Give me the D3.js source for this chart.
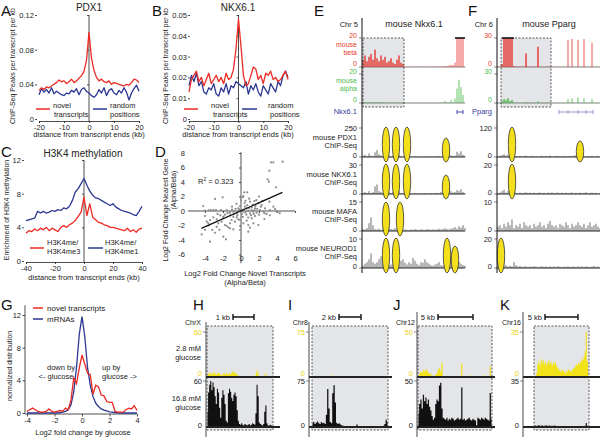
<!DOCTYPE html>
<html><head><meta charset="utf-8">
<script src="https://cdn.jsdelivr.net/npm/d3@7"></script>
<style>body{margin:0;background:#fff}svg{display:block}</style>
</head><body>
<svg id="c" width="600" height="437"></svg>
<script>
// ---------------- DATA ----------------
const kb20 = [-20,-19,-18,-17,-16,-15,-14,-13,-12,-11,-10,-9,-8,-7,-6,-5,-4,-3,-2,-1,0,1,2,3,4,5,6,7,8,9,10,11,12,13,14,15,16,17,18,19,20];
const kb40 = [-40,-38,-36,-34,-32,-30,-28,-26,-24,-22,-20,-18,-16,-14,-12,-10,-8,-6,-4,-2,0,2,4,6,8,10,12,14,16,18,20,22,24,26,28,30,32,34,36,38,40];
// A: PDX1
const pdx1Novel = [0.033,0.036,0.034,0.037,0.036,0.038,0.040,0.042,0.045,0.043,0.044,0.041,0.043,0.046,0.042,0.044,0.047,0.050,0.055,0.068,0.100,0.070,0.056,0.048,0.044,0.046,0.043,0.042,0.044,0.040,0.042,0.041,0.040,0.039,0.038,0.040,0.039,0.042,0.046,0.045,0.042];
const pdx1Random = [0.028,0.035,0.031,0.034,0.030,0.036,0.029,0.032,0.030,0.028,0.027,0.030,0.029,0.033,0.031,0.035,0.028,0.034,0.036,0.032,0.030,0.027,0.025,0.028,0.034,0.030,0.036,0.027,0.033,0.035,0.030,0.028,0.033,0.030,0.036,0.031,0.022,0.030,0.035,0.039,0.032];
// B: NKX6.1
const nkxNovel = [0.013,0.019,0.021,0.023,0.018,0.020,0.016,0.019,0.022,0.017,0.019,0.021,0.018,0.020,0.017,0.022,0.019,0.020,0.024,0.034,0.048,0.035,0.021,0.016,0.017,0.021,0.025,0.024,0.019,0.021,0.017,0.022,0.021,0.023,0.019,0.020,0.018,0.019,0.021,0.023,0.019];
const nkxRandom = [0.016,0.021,0.018,0.022,0.016,0.018,0.013,0.012,0.015,0.014,0.017,0.012,0.011,0.015,0.013,0.017,0.012,0.016,0.015,0.018,0.017,0.016,0.015,0.018,0.012,0.016,0.014,0.017,0.013,0.011,0.016,0.014,0.012,0.017,0.015,0.013,0.018,0.016,0.021,0.023,0.020];
// C: H3K4 methylation
const me3 = [3.3,3.6,3.5,3.8,3.6,3.9,3.7,4.0,3.6,3.9,3.7,3.5,4.0,4.2,4.0,4.3,4.5,4.8,5.3,5.8,7.6,5.4,6.8,5.2,4.9,4.6,4.5,4.3,4.2,4.0,4.0,3.9,3.8,3.7,3.6,3.9,3.5,3.7,3.4,3.8,3.9];
const me1 = [4.8,4.9,5.0,5.1,5.9,5.7,5.9,5.7,5.8,6.0,5.9,6.1,6.0,6.3,6.2,6.5,7.2,8.2,8.6,9.2,9.8,9.0,8.3,7.8,7.5,7.4,7.2,7.0,6.8,6.6,6.8,6.4,6.2,6.0,5.9,5.8,5.7,5.5,5.4,5.9,6.5];
// D: scatter
const dX = [3.33,3.59,4.63,3.15,2.96,3.1,3.89,0.37,0.7,0.26,-2.89,-2.04,-4.2,1.0,1.48,1.93,2.3,2.67,3.15,-3.37,-3.07,-2.78,-2.22,-1.59,-4.0,-3.6,-1.22,-0.85,-0.48,-0.3,-0.11,0.07,0.26,0.44,0.63,0.81,1.0,1.19,1.37,1.56,1.74,2.11,2.48,2.85,3.22,3.78,3.96,-4.0,-3.8,-3.63,-3.44,-3.07,-2.7,-2.52,-2.15,-1.96,-1.78,-1.59,-1.41,-1.22,-1.04,-0.85,-0.67,-0.48,-0.3,-0.11,0.26,0.63,0.81,1.37,1.93,1.19,1.56,-4.37,-1.96,-1.67,-3.44,-0.11,0.81,-0.85,-1.22,0.1,0.3,0.5,0.7,0.9,1.1,1.3,1.5,0.2,0.4,0.6,0.8,1.2,1.4,1.6,1.8,2.0,2.2,2.4,2.6,-0.2,-0.4,-0.6,-0.8,-1.0,-1.2,-1.5,-1.8,-2.0,-2.3,-2.6,0.0,0.2,0.5,0.9,1.7,2.0,-0.5,-1.0,-2.7,-3.2,-2.9,-3.6,-4.0,-2.4,1.0,2.6,3.2,4.3,3.6];
const dY = [6.71,6.71,6.8,5.56,4.37,4.05,3.26,2.57,2.57,2.07,1.66,1.89,0.69,1.29,1.38,1.06,0.83,0.37,1.29,0.14,0.14,0.14,0.14,0.14,0.05,0.1,-0.23,-0.09,-0.32,0.37,0.69,0.14,-0.09,0.6,0.37,0.05,-0.32,0.14,-0.09,0.37,-0.23,0.14,-0.09,-0.41,0.14,0.25,-0.09,-0.69,-1.47,-1.7,-1.24,-0.87,-1.15,-1.7,-1.47,-0.78,-1.93,-2.07,-2.25,-1.7,-1.24,-0.78,-1.47,-0.87,-1.15,-1.24,-1.7,-1.33,-1.93,-1.7,-1.93,-1.01,-0.69,-3.22,-3.54,-3.91,-4.23,-2.62,-2.85,-2.53,-2.39,-0.4,0.2,-0.2,0.8,0.4,-0.6,0.9,0.1,-0.8,1.1,-0.5,-0.9,0.5,-0.4,0.7,0.3,-0.5,0.6,1.4,-0.3,0.2,-0.6,0.3,-0.4,0.2,-0.6,-0.3,-0.5,-1.0,-0.6,-0.4,1.5,1.9,1.4,1.7,1.5,2.0,1.0,0.6,-2.2,-2.6,-3.0,-2.0,-2.6,-2.6,-2.3,-1.1,-0.6,-0.3,0.6];
const dFitX = [-4.4, 4.6];
const dFitY = [-2.4, 2.57];
const dR2 = "0.323";
// E: Nkx6.1 locus (52 bins)
const eBeta = [5,8,4,7,9,5,12,6,4,8,5,7,3,4,6,3,2,5,8,3,2,0.4,0.3,0.2,0.3,0.2,0.2,0.3,0.2,0.2,0.3,0.2,0.2,0.3,0.2,0.3,0.2,0.3,0.4,0.3,0.4,0.5,0.6,1,1.5,1.2,3,25,25,25,25,0.3];
const eAlpha = [0.3,0.5,0.4,0.3,0.6,0.4,0.3,0.5,0.3,0.4,0.3,0.2,0.3,0.2,0.3,0.2,0.2,0.3,0.2,0.2,0.3,0.2,0.1,0.2,0.1,0.2,0.1,0.2,0.1,0.2,0.3,0.2,0.1,0.2,0.1,0.2,0.1,0.2,0.3,0.5,0.4,1.5,0.5,0.5,2,0.6,3,10,16,11,5.5,0.3];
const ePdx1 = [10,20,8,30,12,6,40,60,25,15,8,30,50,10,6,12,40,70,20,8,5,4,6,3,5,4,6,3,4,5,3,6,4,5,3,4,6,5,8,4,6,10,20,40,15,8,12,45,30,50,20,10];
const eNkx = [1,2,1,3,1,2,8,10,3,2,1,3,6,2,1,2,8,12,3,1,0.8,0.5,1,0.6,0.8,0.5,1,0.7,0.5,0.8,0.6,1,0.5,0.7,0.8,0.6,1,1.2,0.8,2,1,3,6,10,3,1.5,2,4,3,5,2,1];
const eMafa = [1,0.8,1.5,4,7,3,1,0.8,1.2,0.6,1,3,6,2,1,0.8,1.5,0.6,0.8,1,0.5,0.8,0.6,0.5,0.8,0.6,1,0.7,0.6,0.9,0.7,0.6,1,0.8,0.6,0.9,0.7,0.8,1.2,0.8,1,1.5,1,0.8,1.2,1.5,2,1.2,2.5,1.8,3,1.5];
const eNeuro = [0.8,1.5,2,3,5,2,1.5,2,3,4,2,1.5,1,0.8,1.2,1.5,2,1.8,1.2,2.5,3,1.8,1.2,2,1.5,3.5,2.5,1.5,1,2,1.8,3,2,1.5,1,0.8,1.2,1.5,2,1,0.8,1,1.5,2,3,4,2.5,3,2,1.5,1,0.8];
const eGene = [47, 50];
const ePeakTrack = [0,0,0,0,1,1,1,1,2,2,3,3,3,3];
const ePeakPos = [11.5,16.5,22,41.5,11.5,16.5,22,41.5,11.5,18.5,11.5,16.5,42,46];
const ePeakSize = [35,35,35,24,35,35,35,24,34,34,35,35,35,27];
// F: Pparg locus (52 bins)
const fBeta = [0.3,0.5,3,40,35,40,32,40,1,0.5,0.3,0.4,0.3,0.3,14,0.3,0.2,0.3,0.2,0.3,21,0.2,0.3,0.2,0.3,0.2,0.3,0.2,0.3,0.2,0.3,0.2,0.3,0.2,0.3,28,0.3,29,0.3,0.2,28,0.3,0.2,29,0.3,0.2,0.3,25,0.3,0.2,0.3,0.2];
const fAlpha = [0.2,0.3,2,4,3,5,2,3,0.3,0.2,0.3,0.2,0.3,0.2,1,0.2,0.3,0.2,0.3,0.2,1.5,0.2,0.3,0.2,0.3,0.2,0.3,0.2,0.3,0.2,0.3,0.2,0.3,0.2,0.3,4,0.3,5,0.3,0.2,6,0.3,0.2,5,0.3,0.2,0.3,4,0.3,0.2,0.3,0.2];
const fPdx1 = [3,5,8,12,6,10,20,30,8,4,3,5,2,4,6,3,2,5,3,4,2,3,5,2,4,3,6,2,3,4,5,2,3,4,2,3,5,4,6,8,10,20,5,3,2,4,3,5,2,3,4,2];
const fNkx = [0.5,1,2,3,1,2,4,5,1.5,0.8,0.5,1,0.6,0.8,1.2,0.5,0.9,0.6,1,0.5,0.8,1.1,0.6,0.9,0.5,1,0.7,1.2,0.6,0.8,1,0.5,0.9,0.7,1,0.6,0.8,1.1,0.5,0.9,0.7,1,0.6,0.8,1.2,0.5,0.7,1,0.6,0.8,0.5,0.7];
const fMafa = [1.5,2,1,2.5,1.5,3,2,4,1,2,1.5,2.5,1,3,2,1.5,2,1,2.5,1.5,2,3,1.5,2,1,2.5,3.5,2,1.5,2,1,2.5,2,1.5,3,2,1,2.5,1.5,2,3,2,1.5,2.5,1,2,3,1.5,2,2.5,1.5,1];
const fNeuro = [1,2,3,1.5,2,1,1.5,1,4,2,1,1.5,0.8,1,1.2,0.6,1,0.8,1.2,1,0.6,0.9,1.2,0.8,1,0.6,1.1,0.8,1,0.7,1.2,0.9,0.6,1,0.8,1.1,0.7,1,0.9,0.6,1.2,0.8,1,0.7,1.1,0.9,0.6,1,1.5,0.8,1,0.7];
const fGene = [30, 48];
const fExons = [30.5, 35, 40, 44, 47.5];
const fPeakTrack = [0,0,1,3];
const fPeakPos = [7,41,7,1.5];
const fPeakSize = [35,21,35,35];
// G: glucose fold change
const gX = [-4,-3.8,-3.6,-3.4,-3.2,-3,-2.8,-2.6,-2.4,-2.2,-2,-1.8,-1.6,-1.4,-1.2,-1,-0.8,-0.6,-0.4,-0.2,0,0.2,0.4,0.6,0.8,1,1.2,1.4,1.6,1.8,2,2.2,2.4,2.6,2.8,3,3.2,3.4,3.6,3.8,4];
const gNovel = [0.2,0.4,0.6,0.4,0.2,0.1,0.1,0.2,0.5,0.2,0.1,0.2,0.3,0.2,0.6,0.4,1.6,4.3,3.6,5.5,7.1,6.0,4.9,4.7,2.3,3.4,3.2,2.2,2.1,1.4,1.3,1.3,0.2,0.1,0.1,0.1,0.4,0.6,0.5,0.9,0.3];
const gMrna = [0,0,0,0,0,0,0,0,0,0,0,0,0.05,0.1,0.2,0.4,1.0,2.6,5.6,9.6,11.8,9.4,5.6,3.4,2.0,1.2,0.8,0.5,0.35,0.25,0.15,0.1,0.05,0.03,0,0,0,0,0,0,0];
// H-K: glucose tracks
const hYellow = [3,5,4,6,3,5,7,4,3,5,6,4,3,2,4,5,3,6,4,3,5,4,6,8,5,7,4,3,2,1,0.5,0.8,0.5,0.6,0.5,0.8,0.5,0.6,0.5,0.7,0.5,0.6,0.8,1,3,9,5,1,0.5,0.5,0.6,0.5,2,5,1,0.5,0.5,0.4,0.5,0.4];
const hBlack = [20,45,55,60,48,58,52,40,30,50,45,25,12,38,48,42,30,8,6,44,50,46,38,34,42,45,40,22,8,4,3,5,3,2,4,3,2,3,4,2,3,5,4,3,18,55,40,6,4,3,2,4,20,28,5,2,2,3,2,1];
const iYellow = [0.3,0.3,0.4,0.3,0.3,0.3,0.4,0.3,0.3,0.3,0.4,0.3,0.3,0.3,0.5,1.5,3,1.5,0.4,0.3,0.3,0.3,0.3,0.3,0.3,0.3,0.3,0.3,0.3,0.3,0.3,0.3,0.3,0.3,0.3,0.3,0.3,0.3,0.3,0.3,0.3,0.3,0.3,0.3,0.3,0.3,0.3,0.3,0.3,0.3,0.3,0.3,0.3,0.3,0.3,0.3,0.3,0.3,0.4,0.3];
const iBlack = [6,8,5,7,9,6,5,8,6,7,5,20,62,30,8,6,55,68,40,7,5,6,4,3,2,1,1,1.5,1,0.8,1,1,0.8,1,0.7,4,1,0.8,1,0.6,0.8,1,0.7,0.6,0.8,1,0.6,0.8,1,0.7,0.6,0.8,1,0.7,0.8,1,2,5,12,8];
const jYellow = [2,4,6,5,8,6,9,7,5,4,3,2,1,1,3,4,8,10,6,16,1,0.5,1,0.8,0.5,1,0.6,0.5,0.8,1,0.5,0.6,0.8,0.5,1,15,1,0.6,0.8,1,0.5,1.5,2,1,0.8,1,0.5,0.5,0.6,1,0.5,0.8,1.5,2,1,0.8,1.2,1,12,1];
const jBlack = [15,25,30,20,35,28,32,25,30,22,18,12,8,10,25,30,28,45,48,20,10,9,8,10,7,9,8,10,9,7,8,9,10,8,9,43,8,9,7,8,9,10,8,7,9,8,7,2,10,9,8,10,9,8,10,9,8,7,37,9];
const kYellow = [0.5,1,3,10,12,9,14,11,13,10,12,9,11,13,10,12,9,11,10,12,9,7,6,5,4,6,5,4,3,5,4,6,5,4,5,6,7,8,10,9,11,10,12,14,13,16,20,35,12,3];
const kBlack = [0.8,1.2,0.6,1,1.5,0.8,1,1.3,0.7,1,0.9,1.4,0.6,1,1.2,0.8,1,0.6,1.1,0.9,0.5,0.7,0.5,0.6,0.4,0.5,0.6,0.4,0.5,0.3,0.4,0.5,0.3,0.4,0.5,0.3,0.4,0.5,0.3,0.4,0.5,0.3,0.4,0.5,0.6,0.8,1,3,1,0.5];

// ---------------- DRAWING ----------------
const FONT = "'Liberation Sans', Arial, Helvetica, sans-serif";
const RED = "#ec2b24", BLUE = "#2c3792", TXT = "#222", FS = 7.5;
const svg = d3.select("#c").attr("font-family", FONT);

function txt(x, y, s, o = {}) {
  const t = svg.append("text").attr("x", x).attr("y", y).attr("dy", "0.35em")
    .attr("font-size", o.size || FS).attr("fill", o.color || TXT)
    .attr("text-anchor", o.anchor || "start").text(s);
  if (o.rot) t.attr("transform", `rotate(-90,${x},${y})`).attr("text-anchor", "middle");
  return t;
}
function styleAxis(g) {
  g.attr("font-family", FONT).attr("font-size", FS).attr("color", TXT);
  g.selectAll("line,path").attr("stroke-width", 0.8);
}
const fmtInt = d => String(d);

// panel letters
[["A",1,11],["B",152,11],["C",1,152],["D",155,152],["E",314,11],["F",468,11],["G",1,305],["H",193,305],["I",288,305],["J",393,305],["K",500,305]]
  .forEach(([l,x,y]) => txt(x, y, l, {size: 15, color: "#111"}));

function curvePanel(p) {
  const x = d3.scaleLinear().domain(p.xd).range(p.xr);
  const y = d3.scaleLinear().domain(p.yd).range(p.yr);
  const ya = d3.axisLeft(y).tickValues(p.yTicks).tickFormat(p.yFmt).tickSize(2).tickPadding(1.2);
  const yg = svg.append("g").attr("transform", `translate(${p.labX},0)`).call(ya);
  yg.select(".domain").remove(); styleAxis(yg);
  const xa = d3.axisBottom(x).tickValues(p.xTicks).tickFormat(fmtInt).tickSize(2).tickPadding(1.2);
  const xg = svg.append("g").attr("transform", `translate(0,${p.axisY})`).call(xa);
  styleAxis(xg);
  const cg = svg.append("g").attr("transform", `translate(${x(0)},0)`)
    .call(d3.axisLeft(y).tickValues(p.yTicks.filter(v => v !== 0)).tickFormat("").tickSize(2));
  cg.select(".domain").attr("d", `M0,${y(p.yd[1])}V${p.axisY}`);
  styleAxis(cg);
  const line = d3.line().x((d, i) => x(p.xs[i])).y(d => y(d));
  p.series.forEach(s => svg.append("path").datum(s.v).attr("d", line)
    .attr("fill", "none").attr("stroke", s.c).attr("stroke-width", 1.3).attr("stroke-linejoin", "round"));
  return {x, y};
}
function legendLine(x1, x2, y, c) {
  svg.append("line").attr("x1", x1).attr("x2", x2).attr("y1", y).attr("y2", y).attr("stroke", c).attr("stroke-width", 1.5);
}

// A
curvePanel({xd:[-20,20], xr:[39,139], yd:[0,0.12], yr:[119,15], labX:37, axisY:121,
  yTicks:[0,0.04,0.08,0.12], yFmt: d => d === 0 ? "0" : d.toFixed(2), xTicks:[-20,-10,0,10,20], xs: kb20,
  series:[{v: pdx1Random, c: BLUE}, {v: pdx1Novel, c: RED}]});
txt(89, 7, "PDX1", {size: 10, anchor: "middle"});
txt(13, 66, "ChIP-Seq Peaks per transcript per kb", {rot: true, size: 7});
txt(89, 134.5, "distance from transcript ends (kb)", {anchor: "middle"});
legendLine(36, 50, 109, RED); txt(53, 105, "novel"); txt(54, 114, "transcripts");
legendLine(93, 107, 109, BLUE); txt(110, 105, "random"); txt(110, 114, "positions");

// B
curvePanel({xd:[-20,20], xr:[189,288], yd:[0,0.05], yr:[119,15], labX:190, axisY:121,
  yTicks:[0,0.01,0.02,0.03,0.04,0.05], yFmt: d => d === 0 ? "0" : d.toFixed(2), xTicks:[-20,-10,0,10,20], xs: kb20,
  series:[{v: nkxRandom, c: BLUE}, {v: nkxNovel, c: RED}]});
txt(238, 7, "NKX6.1", {size: 10, anchor: "middle"});
txt(166, 66, "ChIP-Seq Peaks per transcript per kb", {rot: true, size: 7});
txt(238, 134.5, "distance from transcript ends (kb)", {anchor: "middle"});
legendLine(184, 198, 109, RED); txt(211, 105, "novel"); txt(213, 114, "transcripts");
legendLine(242, 257, 109, BLUE); txt(268, 105, "random"); txt(270, 114, "positions");

// C
curvePanel({xd:[-40,40], xr:[26,142], yd:[0,12], yr:[261,160], labX:24, axisY:262,
  yTicks:[0,4,8,12], yFmt: fmtInt, xTicks:[-40,-20,0,20,40], xs: kb40,
  series:[{v: me1, c: BLUE}, {v: me3, c: RED}]});
txt(83, 153, "H3K4 methylation", {size: 10, anchor: "middle"});
txt(7, 210, "Enrichment of H3K4 methylation", {rot: true, size: 7});
txt(84, 277, "distance from transcript ends (kb)", {anchor: "middle"});
legendLine(30, 44, 248, RED); txt(47, 242, "H3K4me/"); txt(47, 251, "H3K4me3");
legendLine(88, 103, 248, BLUE); txt(105, 242, "H3K4me/"); txt(105, 251, "H3K4me1");

// D
(function(){
  const x = d3.scaleLinear().domain([-6,6]).range([187,295]);
  const y = d3.scaleLinear().domain([-8,8]).range([269,153]);
  const yTicks = [-6,-4,-2,0,2,4,6,8];
  const yl = svg.append("g").attr("transform", "translate(186,0)")
    .call(d3.axisLeft(y).tickValues(yTicks).tickFormat(fmtInt).tickSize(0).tickPadding(1));
  yl.select(".domain").remove(); styleAxis(yl);
  const xl = svg.append("g").attr("transform", "translate(0,255)")
    .call(d3.axisBottom(x).tickValues([-4,-2,0,2,4,6]).tickFormat(fmtInt).tickSize(0).tickPadding(1));
  xl.select(".domain").remove(); styleAxis(xl);
  const va = svg.append("g").attr("transform", `translate(${x(0)},0)`)
    .call(d3.axisLeft(y).tickValues([-6,-4,-2,2,4,6,8]).tickFormat("").tickSize(2));
  va.select(".domain").attr("d", `M0,${y(8.1)}V${y(-7.2)}`); styleAxis(va);
  const ha = svg.append("g").attr("transform", `translate(0,${y(0)})`)
    .call(d3.axisBottom(x).tickValues([-4,-2,2,4,6]).tickFormat("").tickSize(2));
  ha.select(".domain").attr("d", `M${x(-5.9)},0H${x(6)}`); styleAxis(ha);
  svg.append("g").selectAll("circle").data(dX).join("circle")
    .attr("cx", d => x(d)).attr("cy", (d, i) => y(dY[i])).attr("r", 1.1).attr("fill", "#8a8a8a");
  svg.append("path").datum(dFitX).attr("d", d3.line().x(d => x(d)).y((d, i) => y(dFitY[i])))
    .attr("stroke", "#111").attr("stroke-width", 1.3);
  const t = txt(198, 181, "R");
  t.append("tspan").attr("font-size", 5).attr("dy", "-3").text("2");
  t.append("tspan").attr("dy", "3").text(" = " + dR2);
  txt(166, 210, "Log2 Fold Change Nearest Gene", {rot: true, size: 7});
  txt(174, 190, "(Alpha/Beta)", {rot: true, size: 7});
  txt(245, 273, "Log2 Fold Change Novel Transcripts", {anchor: "middle"});
  txt(245, 282, "(Alpha/Beta)", {anchor: "middle"});
})();

// E & F genome browser
const GRAY = "#e4e5e8", YEL = "#f3df1c";
function barTrack(vals, xr, base, h, max, color, w, opac) {
  const x = d3.scaleLinear().domain([0, vals.length - 1]).range(xr);
  const y = d3.scaleLinear().domain([0, max]).range([base, base - h]).clamp(true);
  svg.append("g").selectAll("rect").data(vals).join("rect")
    .attr("x", (d, i) => x(i) - w / 2).attr("width", w)
    .attr("y", d => y(d)).attr("height", d => base - y(d)).attr("fill", color)
    .attr("opacity", (d, i) => opac ? opac(i) : 1);
  const over = vals.map((v, i) => v > max ? i : -1).filter(i => i >= 0);
  if (over.length) svg.append("line").attr("x1", x(over[0]) - 2).attr("x2", x(over[over.length - 1]) + 2)
    .attr("y1", base - h).attr("y2", base - h).attr("stroke", "#111").attr("stroke-width", 1.6);
  return x;
}
function browser(c) {
  const xr = [c.ax + 1, c.ax + 103];
  const xs = d3.scaleLinear().domain([0, 51]).range(xr);
  svg.append("rect").attr("x", xs(c.box[0])).attr("y", 38).attr("width", xs(c.box[1]) - xs(c.box[0])).attr("height", 69)
    .attr("fill", GRAY);
  const L = c.ax - 5;
  txt(L + 1, 24, c.chr, {anchor: "end"});
  txt(c.ax + 52, 24, c.title, {size: 9, anchor: "middle"});
  const tick = (y) => svg.append("line").attr("x1", c.ax - 3).attr("x2", c.ax).attr("y1", y).attr("y2", y).attr("stroke", "#555").attr("stroke-width", 0.7);
  const inBox = i => (i >= c.box[0] && i <= c.box[1]) ? 1 : 0.6;
  [[67, c.beta, c.betaMax, "#e4281f", "#e8392e", "beta"], [103, c.alpha, c.alphaMax, "#3cb43c", "#4cbb4c", "alpha"]].forEach(([b, v, m, col, tcol, nm]) => {
    svg.append("line").attr("x1", c.ax).attr("x2", xr[1]).attr("y1", b).attr("y2", b).attr("stroke", "#666").attr("stroke-width", 0.8);
    barTrack(v, xr, b, 29, m, col, 1.3, inBox);
    txt(L, b - 31, String(m), {anchor: "end", color: tcol, size: 7}); tick(b - 29);
    txt(L, b - 3, "0", {anchor: "end", color: tcol, size: 7}); tick(b);
    if (c.showNames) { txt(L, b - 22, "mouse", {anchor: "end", color: tcol, size: 7}); txt(L, b - 14, nm, {anchor: "end", color: tcol, size: 7}); }
  });
  svg.append("rect").attr("x", xs(c.box[0])).attr("y", 38).attr("width", xs(c.box[1]) - xs(c.box[0])).attr("height", 69)
    .attr("fill", "none").attr("stroke", "#333").attr("stroke-width", 0.8).attr("stroke-dasharray", "2,1.5");
  txt(L, 111, c.gene, {anchor: "end", color: "#3a3aa0"});
  svg.append("line").attr("x1", xs(c.geneSpan[0])).attr("x2", xs(c.geneSpan[1])).attr("y1", 112).attr("y2", 112)
    .attr("stroke", c.geneColor).attr("stroke-width", 1);
  svg.append("g").selectAll("line").data(c.exons).join("line")
    .attr("x1", d => xs(d)).attr("x2", d => xs(d)).attr("y1", 110).attr("y2", 114).attr("stroke", c.geneColor).attr("stroke-width", 1);
  const bases = [157, 194, 231, 268];
  c.chip.forEach((t, k) => {
    const b = bases[k];
    barTrack(t.v, xr, b, 29, t.max, "#333", 0.7);
    svg.append("line").attr("x1", c.ax).attr("x2", xr[1]).attr("y1", b).attr("y2", b).attr("stroke", "#111").attr("stroke-width", 0.9);
    txt(L, b - 29, String(t.max), {anchor: "end"}); tick(b - 29);
    txt(L, b - 2, "0", {anchor: "end"}); tick(b);
    if (c.showNames) { txt(L, b - 20, t.name, {anchor: "end"}); txt(L, b - 12, "ChIP-Seq", {anchor: "end"}); }
  });
  svg.append("g").selectAll("ellipse").data(c.peakPos).join("ellipse")
    .attr("cx", d => xs(d)).attr("cy", (d, i) => bases[c.peakTrack[i]] + 5 - c.peakSize[i] / 2)
    .attr("rx", 3.7).attr("ry", (d, i) => c.peakSize[i] / 2)
    .attr("fill", YEL).attr("stroke", "#333").attr("stroke-width", 0.8);
  svg.append("line").attr("x1", c.ax).attr("x2", c.ax).attr("y1", 18).attr("y2", 273).attr("stroke", "#111").attr("stroke-width", 1);
}
browser({ax: 362, chr: "Chr 5", title: "mouse Nkx6.1", box: [0, 20.5], beta: eBeta, betaMax: 20, alpha: eAlpha, alphaMax: 20,
  showNames: true, gene: "Nkx6.1", geneSpan: eGene, exons: eGene, geneColor: "#4848b0",
  chip: [{v: ePdx1, max: 250, name: "mouse PDX1"}, {v: eNkx, max: 30, name: "mouse NKX6.1"}, {v: eMafa, max: 15, name: "mouse MAFA"}, {v: eNeuro, max: 10, name: "mouse NEUROD1"}],
  peakTrack: ePeakTrack, peakPos: ePeakPos, peakSize: ePeakSize});
browser({ax: 497, chr: "Chr 6", title: "mouse Pparg", box: [1.5, 26.5], beta: fBeta, betaMax: 30, alpha: fAlpha, alphaMax: 30,
  showNames: false, gene: "Pparg", geneSpan: fGene, exons: fExons, geneColor: "#9b9bd0",
  chip: [{v: fPdx1, max: 120}, {v: fNkx, max: 20}, {v: fMafa, max: 10}, {v: fNeuro, max: 20}],
  peakTrack: fPeakTrack, peakPos: fPeakPos, peakSize: fPeakSize});

// G
(function(){
  const x = d3.scaleLinear().domain([-4,4]).range([27,137]);
  const y = d3.scaleLinear().domain([0,12]).range([413,315]);
  const ya = svg.append("g").attr("transform", "translate(25,0)")
    .call(d3.axisLeft(y).tickValues([0,4,8,12]).tickFormat(fmtInt).tickSize(2.5).tickPadding(1.5));
  ya.select(".domain").attr("d", `M0,${y(13.2)}V${y(0)}`); styleAxis(ya);
  const xa = svg.append("g").attr("transform", "translate(0,414)")
    .call(d3.axisBottom(x).tickValues([-4,-2,0,2,4]).tickFormat(fmtInt).tickSize(2.5).tickPadding(1.5));
  xa.select(".domain").attr("d", `M25,0H${x(4)}`); styleAxis(xa);
  const line = d3.line().x((d, i) => x(gX[i])).y(d => y(d));
  svg.append("path").datum(gMrna).attr("d", line).attr("fill", "none").attr("stroke", BLUE).attr("stroke-width", 1.3);
  svg.append("path").datum(gNovel).attr("d", line).attr("fill", "none").attr("stroke", RED).attr("stroke-width", 1.3);
  legendLine(33, 43, 308, RED); txt(47, 308, "novel transcripts", {size: 8});
  legendLine(33, 43, 319, BLUE); txt(47, 319, "mRNAs", {size: 8});
  txt(61, 367, "down by", {anchor: "middle"}); txt(56, 376, "<- glucose", {anchor: "middle"});
  txt(102, 367, "up by"); txt(102, 376, "glucose ->");
  txt(10, 366, "normalized distribution", {rot: true, size: 7});
  txt(83, 432, "Log2 fold change by glucose", {anchor: "middle"});
})();

// H-K
function gluc(c) {
  const YLW = "#f2e21a", YTXT = "#e8d60a";
  svg.append("rect").attr("x", c.box[0]).attr("y", 326).attr("width", c.box[1] - c.box[0]).attr("height", 104).attr("fill", GRAY);
  const xs = d3.scaleLinear().domain([0, c.yel.length - 1]).range([c.box[0] + 0.5, c.box[1] - 0.5]);
  [[377, 45, c.yel, YLW], [427, 46, c.blk, "#111"]].forEach(([b, h, v, col]) => {
    const y = d3.scaleLinear().domain([0, c.max]).range([b, b - h]).clamp(true);
    svg.append("path").datum(v).attr("d", d3.area().x((d, i) => xs(i)).y0(b).y1(d => y(d)).curve(d3.curveStep)).attr("fill", col);
    svg.append("line").attr("x1", c.ax).attr("x2", c.lineEnd).attr("y1", b).attr("y2", b).attr("stroke", "#222").attr("stroke-width", 1.8);
    svg.append("line").attr("x1", c.ax - 3).attr("x2", c.ax).attr("y1", b - h).attr("y2", b - h).attr("stroke", "#555").attr("stroke-width", 0.7);
  });
  svg.append("rect").attr("x", c.box[0]).attr("y", 326).attr("width", c.box[1] - c.box[0]).attr("height", 104)
    .attr("fill", "none").attr("stroke", "#333").attr("stroke-width", 0.8).attr("stroke-dasharray", "2,1.5");
  svg.append("line").attr("x1", c.ax).attr("x2", c.ax).attr("y1", c.axTop).attr("y2", 437).attr("stroke", "#333").attr("stroke-width", 0.9);
  txt(c.ax - 4, 332, String(c.max), {anchor: "end", color: YTXT});
  txt(c.ax - 4, 373, "0", {anchor: "end", color: YTXT});
  txt(c.ax - 4, 381, String(c.max), {anchor: "end"});
  txt(c.ax - 4, 425, "0", {anchor: "end"});
  txt(c.chrX, 323, c.chr, {anchor: "end", size: 7});
  txt(c.bar[0] - 3, 317, c.kb, {anchor: "end"});
  svg.append("path").attr("d", `M${c.bar[0]},317H${c.bar[1]}M${c.bar[0]},314V320M${c.bar[1]},314V320`)
    .attr("stroke", "#111").attr("stroke-width", 1.4).attr("fill", "none");
}
gluc({ax: 206, box: [207, 273], lineEnd: 280, axTop: 322, max: 60, yel: hYellow, blk: hBlack, chr: "ChrX", chrX: 201, kb: "1 kb", bar: [233, 254]});
gluc({ax: 309, box: [312, 388], lineEnd: 392, axTop: 322, max: 75, yel: iYellow, blk: iBlack, chr: "Chr8", chrX: 308, kb: "2 kb", bar: [339, 361]});
gluc({ax: 417, box: [418, 492], lineEnd: 495, axTop: 312, max: 50, yel: jYellow, blk: jBlack, chr: "Chr12", chrX: 415, kb: "5 kb", bar: [438, 473]});
gluc({ax: 523, box: [534, 589], lineEnd: 600, axTop: 312, max: 35, yel: kYellow, blk: kBlack, chr: "Chr16", chrX: 521, kb: "5 kb", bar: [545, 578]});
txt(201, 348, "2.8 mM", {anchor: "end"}); txt(201, 357, "glucose", {anchor: "end"});
txt(201, 398, "16.8 mM", {anchor: "end"}); txt(201, 407, "glucose", {anchor: "end"});
</script>
</body></html>
